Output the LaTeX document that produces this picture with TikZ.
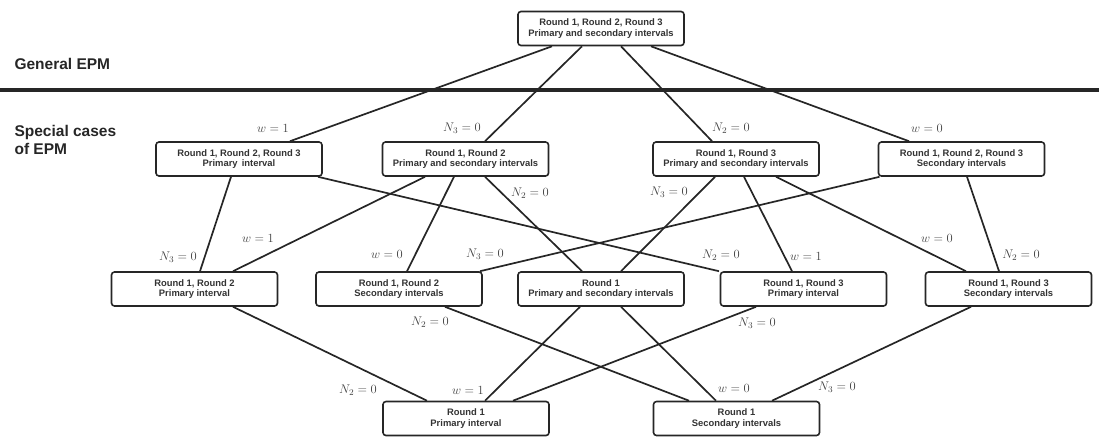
\RequirePackage{fix-cm}
\documentclass[tikz,border=0pt]{standalone}
\usepackage{fontspec}
\setmainfont{Liberation Sans}
\begin{document}
\begin{tikzpicture}[x=1pt,y=-1pt]
      \useasboundingbox (0,0) rectangle (1099,437);

      % separator and side headings
      \draw[line width=3.5pt, black!85] (0,90) -- (1099,90);
      \begin{scope}[every node/.style={anchor=west, align=left, text=black!85,
          font=\fontsize{15.5}{18}\selectfont\bfseries}]
        \node (general) at (11,63.5) {General EPM};
        \node (special) at (11,140) {Special cases\\of EPM};
      \end{scope}

      \begin{scope}[every node/.style={draw=black!85, line width=1.6pt, rounded corners=3pt,
          fill=white, minimum width=166pt, minimum height=34pt, inner sep=0pt, align=center,
          text=black!80, font=\fontsize{9.4}{10.4}\selectfont\bfseries}]
        \node (all)  at (601,28.5)  {Round 1, Round 2, Round 3\\Primary and secondary intervals};
        \node (p123) at (239,159)   {Round 1, Round 2, Round 3\\Primary\, interval};
        \node (ps12) at (465.5,159) {Round 1, Round 2\\Primary and secondary intervals};
        \node (ps13) at (736,159)   {Round 1, Round 3\\Primary and secondary intervals};
        \node (s123) at (961.5,159) {Round 1, Round 2, Round 3\\Secondary intervals};
        \node (p12)  at (194.5,289) {Round 1, Round 2\\Primary interval};
        \node (s12)  at (399,289)   {Round 1, Round 2\\Secondary intervals};
        \node (ps1)  at (601,289)   {Round 1\\Primary and secondary intervals};
        \node (p13)  at (803.5,289) {Round 1, Round 3\\Primary interval};
        \node (s13)  at (1008.5,289) {Round 1, Round 3\\Secondary intervals};
        \node (p1)   at (466,418.5) {Round 1\\Primary interval};
        \node (s1)   at (736.5,418.5) {Round 1\\Secondary intervals};
      \end{scope}

      \begin{scope}[every edge/.style={draw, line width=1.7pt, black!85}]
        \path ([xshift=-49pt]all.south)  edge ([xshift=51pt]p123.north);
        \path ([xshift=-19pt]all.south)  edge ([xshift=19.5pt]ps12.north);
        \path ([xshift=20pt]all.south)   edge ([xshift=-24pt]ps13.north);
        \path ([xshift=50pt]all.south)   edge ([xshift=-52.5pt]s123.north);
        \path ([xshift=-8pt]p123.south)  edge ([xshift=5.5pt]p12.north);
        \path ([xshift=79pt]p123.south)  edge ([xshift=-84.5pt]p13.north);
        \path ([xshift=-40.5pt]ps12.south) edge ([xshift=38.5pt]p12.north);
        \path ([xshift=-11.5pt]ps12.south) edge ([xshift=8pt]s12.north);
        \path ([xshift=19.5pt]ps12.south)  edge ([xshift=-19pt]ps1.north);
        \path ([xshift=-21pt]ps13.south) edge ([xshift=20pt]ps1.north);
        \path ([xshift=8pt]ps13.south)   edge ([xshift=-11.5pt]p13.north);
        \path ([xshift=40pt]ps13.south)  edge ([xshift=-42.5pt]s13.north);
        \path ([xshift=-82pt]s123.south) edge ([xshift=81pt]s12.north);
        \path ([xshift=5.5pt]s123.south) edge ([xshift=-9.5pt]s13.north);
        \path ([xshift=38.5pt]p12.south) edge ([xshift=-39pt]p1.north);
        \path ([xshift=46pt]s12.south)   edge ([xshift=-47.5pt]s1.north);
        \path ([xshift=-21pt]ps1.south)  edge ([xshift=19pt]p1.north);
        \path ([xshift=20pt]ps1.south)   edge ([xshift=-20.5pt]s1.north);
        \path ([xshift=-47.5pt]p13.south) edge ([xshift=47pt]p1.north);
        \path ([xshift=-37.5pt]s13.south) edge ([xshift=35.5pt]s1.north);
      \end{scope}

      \begin{scope}[every node/.style={text=black!75, font=\fontsize{12.5}{14}\selectfont}]
        \node (w1a)  at (273,128)  {$w=1$};
        \node (n3a)  at (462,128)  {$N_3=0$};
        \node (n2a)  at (731,128)  {$N_2=0$};
        \node (w0a)  at (927,128)  {$w=0$};
        \node (n3b)  at (178,257)  {$N_3=0$};
        \node (n2b)  at (721,255)  {$N_2=0$};
        \node (w1b)  at (258,238)  {$w=1$};
        \node (w0b)  at (387,254)  {$w=0$};
        \node (n2c)  at (530,193)  {$N_2=0$};
        \node (n3c)  at (669,192)  {$N_3=0$};
        \node (w1c)  at (806,256)  {$w=1$};
        \node (w0c)  at (937,238)  {$w=0$};
        \node (n3d)  at (485,254)  {$N_3=0$};
        \node (n2d)  at (1021,255) {$N_2=0$};
        \node (n2e)  at (358,390)  {$N_2=0$};
        \node (n2f)  at (430,322)  {$N_2=0$};
        \node (w1d)  at (468,390)  {$w=1$};
        \node (w0d)  at (734,388)  {$w=0$};
        \node (n3e)  at (757,323)  {$N_3=0$};
        \node (n3f)  at (837,387)  {$N_3=0$};
      \end{scope}

    \end{tikzpicture}
\end{document}
